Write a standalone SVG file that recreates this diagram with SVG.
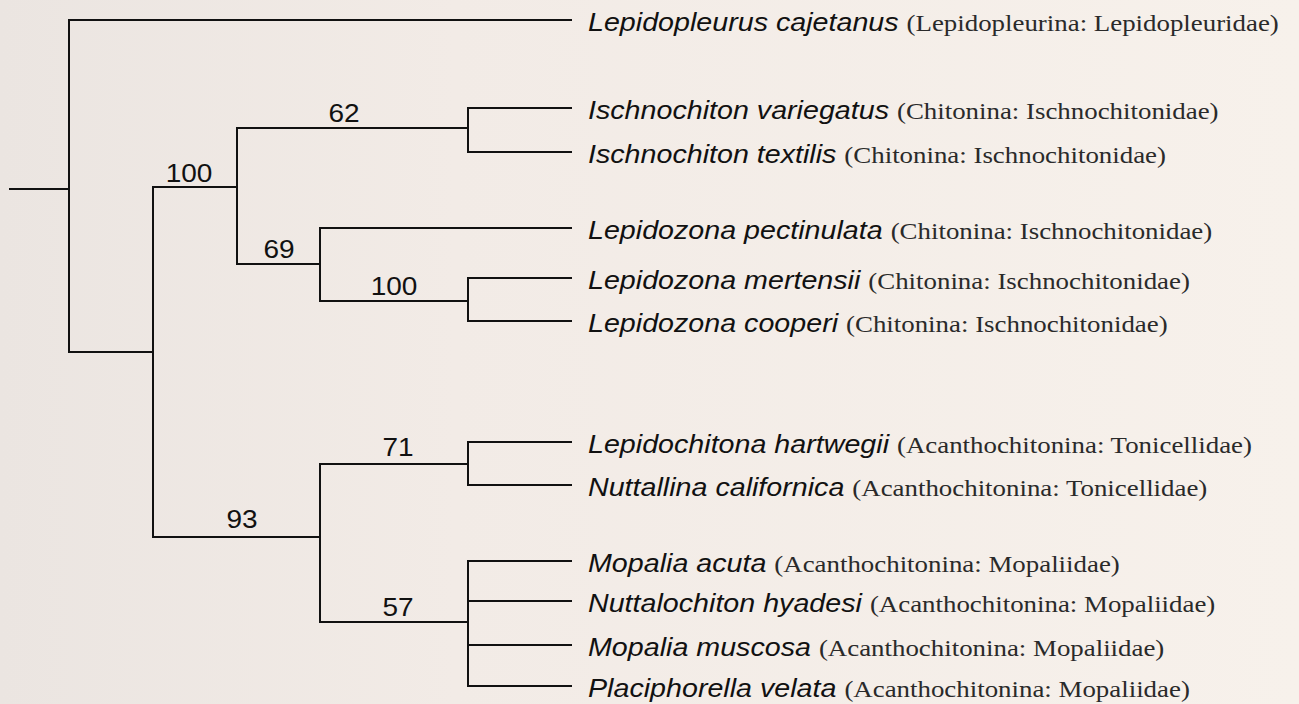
<svg xmlns="http://www.w3.org/2000/svg" width="1299" height="704" viewBox="0 0 1299 704">
  <defs>
    <linearGradient id="bg" x1="0" y1="0" x2="1" y2="0">
      <stop offset="0" stop-color="#ebe5e1"/>
      <stop offset="0.35" stop-color="#f2ebe6"/>
      <stop offset="1" stop-color="#f7f1eb"/>
    </linearGradient>
    <style>
      .br { fill: none; stroke: #111; stroke-width: 2; stroke-linecap: square; }
      .sp { font-family: "Liberation Sans", Arial, sans-serif; font-style: italic; font-size: 25.6px; fill: #111; }
      .tx { font-family: "Liberation Serif", "Times New Roman", serif; font-style: normal; font-size: 24px; fill: #2a2a2a; }
      .bs { font-family: "Liberation Sans", Arial, sans-serif; font-size: 25px; fill: #111; text-anchor: middle; }
    </style>
  </defs>
  <rect width="1299" height="704" fill="url(#bg)"/>

  <g id="connectors">
    <path class="br" d="M10,189 H69"/>
    <path class="br" d="M571,20 H69 V352 H153"/>
    <path class="br" d="M237,187 H153 V537 H320"/>
    <path class="br" d="M468,128 H237 V264 H320"/>
    <path class="br" d="M571,108 H468 V152 H571"/>
    <path class="br" d="M571,228 H320 V301 H468"/>
    <path class="br" d="M571,278 H468 V321 H571"/>
    <path class="br" d="M468,464 H320 V622 H468"/>
    <path class="br" d="M571,442 H468 V485 H571"/>
    <path class="br" d="M571,561 H468 V686 H571"/>
    <path class="br" d="M468,601 H571"/>
    <path class="br" d="M468,645 H571"/>
  </g>

  <g id="support-values">
    <g transform="translate(189,181.5) scale(1.12,1)"><text class="bs" x="0" y="0">100</text></g>
    <g transform="translate(344,122) scale(1.12,1)"><text class="bs" x="0" y="0">62</text></g>
    <g transform="translate(279,258) scale(1.12,1)"><text class="bs" x="0" y="0">69</text></g>
    <g transform="translate(394,294.5) scale(1.12,1)"><text class="bs" x="0" y="0">100</text></g>
    <g transform="translate(242,528) scale(1.12,1)"><text class="bs" x="0" y="0">93</text></g>
    <g transform="translate(398,456) scale(1.12,1)"><text class="bs" x="0" y="0">71</text></g>
    <g transform="translate(398,615.5) scale(1.12,1)"><text class="bs" x="0" y="0">57</text></g>
  </g>

  <g id="leaf-lepidopleurus-cajetanus" transform="translate(588,30.5) scale(1.12,1)"><text class="sp" x="0" y="0">Lepidopleurus cajetanus <tspan class="tx">(Lepidopleurina: Lepidopleuridae)</tspan></text></g>
  <g id="leaf-ischnochiton-variegatus" transform="translate(588,118.5) scale(1.12,1)"><text class="sp" x="0" y="0">Ischnochiton variegatus <tspan class="tx">(Chitonina: Ischnochitonidae)</tspan></text></g>
  <g id="leaf-ischnochiton-textilis" transform="translate(588,162.5) scale(1.12,1)"><text class="sp" x="0" y="0">Ischnochiton textilis <tspan class="tx">(Chitonina: Ischnochitonidae)</tspan></text></g>
  <g id="leaf-lepidozona-pectinulata" transform="translate(588,238.5) scale(1.12,1)"><text class="sp" x="0" y="0">Lepidozona pectinulata <tspan class="tx">(Chitonina: Ischnochitonidae)</tspan></text></g>
  <g id="leaf-lepidozona-mertensii" transform="translate(588,288.5) scale(1.12,1)"><text class="sp" x="0" y="0">Lepidozona mertensii <tspan class="tx">(Chitonina: Ischnochitonidae)</tspan></text></g>
  <g id="leaf-lepidozona-cooperi" transform="translate(588,331.5) scale(1.12,1)"><text class="sp" x="0" y="0">Lepidozona cooperi <tspan class="tx">(Chitonina: Ischnochitonidae)</tspan></text></g>
  <g id="leaf-lepidochitona-hartwegii" transform="translate(588,452.5) scale(1.12,1)"><text class="sp" x="0" y="0">Lepidochitona hartwegii <tspan class="tx">(Acanthochitonina: Tonicellidae)</tspan></text></g>
  <g id="leaf-nuttallina-californica" transform="translate(588,495.5) scale(1.12,1)"><text class="sp" x="0" y="0">Nuttallina californica <tspan class="tx">(Acanthochitonina: Tonicellidae)</tspan></text></g>
  <g id="leaf-mopalia-acuta" transform="translate(588,571.5) scale(1.12,1)"><text class="sp" x="0" y="0">Mopalia acuta <tspan class="tx">(Acanthochitonina: Mopaliidae)</tspan></text></g>
  <g id="leaf-nuttalochiton-hyadesi" transform="translate(588,611.5) scale(1.12,1)"><text class="sp" x="0" y="0">Nuttalochiton hyadesi <tspan class="tx">(Acanthochitonina: Mopaliidae)</tspan></text></g>
  <g id="leaf-mopalia-muscosa" transform="translate(588,655.5) scale(1.12,1)"><text class="sp" x="0" y="0">Mopalia muscosa <tspan class="tx">(Acanthochitonina: Mopaliidae)</tspan></text></g>
  <g id="leaf-placiphorella-velata" transform="translate(588,696.5) scale(1.12,1)"><text class="sp" x="0" y="0">Placiphorella velata <tspan class="tx">(Acanthochitonina: Mopaliidae)</tspan></text></g>
</svg>
